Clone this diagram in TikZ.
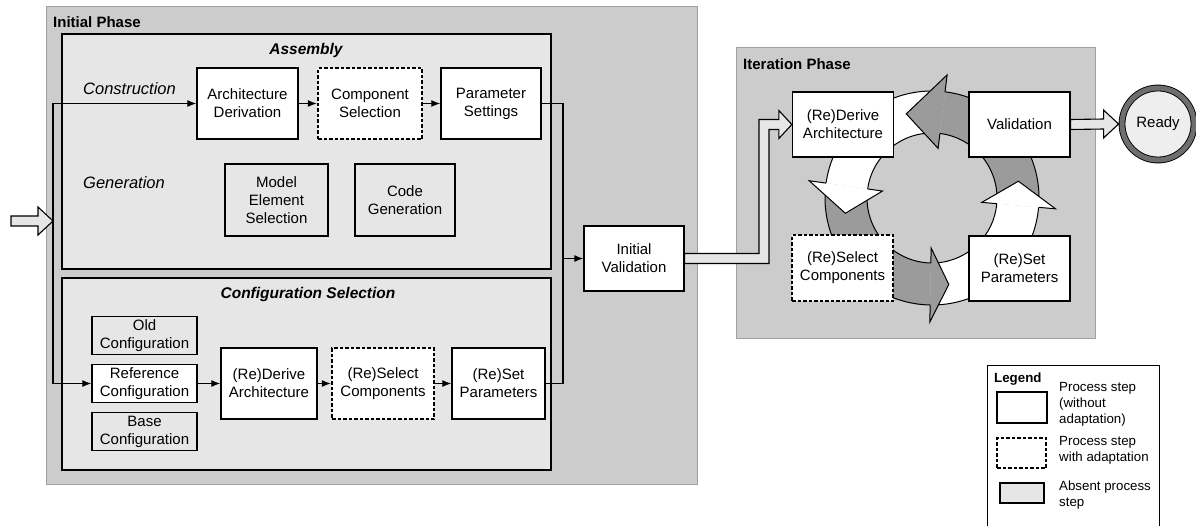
\documentclass[tikz,border=0pt]{standalone}
\usepackage{fontspec}
\setmainfont{Liberation Sans}
\usetikzlibrary{arrows.meta, calc, shapes.geometric}
\definecolor{phasegray}{RGB}{204,204,204}
\definecolor{phaseline}{RGB}{160,160,160}
\definecolor{areagray}{RGB}{230,230,230}
\definecolor{cyclegray}{RGB}{155,155,155}
\definecolor{readyring}{RGB}{110,110,110}
\definecolor{readyfill}{RGB}{238,238,238}
\newcommand{\stepfont}{\fontsize{15}{18}\selectfont}
\newcommand{\phasefont}{\fontsize{15}{18}\selectfont\bfseries}
\newcommand{\areafont}{\fontsize{15.5}{18}\selectfont\bfseries\itshape}
\newcommand{\rowfont}{\fontsize{16.5}{20}\selectfont\itshape}
\newcommand{\legfont}{\fontsize{13.3}{16}\selectfont}

\tikzset{
  stepbox/.style={draw, fill=white, line width=1.3pt, align=center, inner sep=1pt,
    font=\stepfont, minimum width=101pt, minimum height=71pt},
  adaptbox/.style={stepbox, line width=2.4pt, dash pattern=on 3.5pt off 2pt},
  absentbox/.style={stepbox, fill=areagray},
  cfgbox/.style={stepbox, minimum width=105pt, minimum height=38pt},
  phaselabel/.style={anchor=west, inner sep=0pt, font=\phasefont},
  arealabel/.style={inner sep=0pt, font=\areafont},
  rowlabel/.style={anchor=west, inner sep=0pt, font=\rowfont},
  legendtitle/.style={anchor=west, inner sep=0pt, font=\legfont\bfseries},
  legtext/.style={anchor=west, align=left, inner sep=0pt, font=\legfont},
  flow/.style={-{Latex[length=9pt,width=7pt]}, line width=1.1pt},
  fatarrow/.style={fill=areagray, draw=black, line width=1.1pt, line join=miter},
  ready/.style={circle, minimum size=72pt, inner sep=0pt, fill=readyfill, draw=black,
    line width=0.9pt, double=readyring, double distance=5pt, font=\stepfont}
}

% straight fat arrow between two points on one level
\newcommand{\fatlink}[2]{%
  \filldraw[fatarrow] ($(#1)+(0,-5)$) -- ($(#2)+(-15,-5)$) -- ($(#2)+(-15,-14)$) -- (#2)
    -- ($(#2)+(-15,14)$) -- ($(#2)+(-15,5)$) -- ($(#1)+(0,5)$) -- cycle;}
% ring segment of the iteration cycle: start, base, colour
\newcommand{\cyclebody}[3]{%
  \fill[#3] ($(ctr)+(#1:65pt)$) arc[start angle=#1, end angle=#2, radius=65pt]
    -- ($(ctr)+(#2:107pt)$) arc[start angle=#2, end angle=#1, radius=107pt] -- cycle;
  \draw[line width=1pt] ($(ctr)+(#1:65pt)$) arc[start angle=#1, end angle=#2, radius=65pt];
  \draw[line width=1pt] ($(ctr)+(#1:107pt)$) arc[start angle=#1, end angle=#2, radius=107pt];}
% head of a ring segment: base, tip, colour
\newcommand{\cyclehead}[3]{%
  \fill[#3] ($(ctr)+(#1:65pt)$) -- ($(ctr)+(#1:50pt)$) -- ($(ctr)+(#2:88pt)$)
    -- ($(ctr)+(#1:124pt)$) -- ($(ctr)+(#1:107pt)$) -- cycle;
  \draw[line width=1pt, line join=miter] ($(ctr)+(#1:65pt)$) -- ($(ctr)+(#1:50pt)$)
    -- ($(ctr)+(#2:88pt)$) -- ($(ctr)+(#1:124pt)$) -- ($(ctr)+(#1:107pt)$);}

\begin{document}
\begin{tikzpicture}[x=1pt, y=-1pt]
\useasboundingbox (0,0) rectangle (1196,525);

% phases and areas
\filldraw[fill=phasegray, draw=phaseline, line width=1pt] (46,6) rectangle (697,484);
\filldraw[fill=areagray, line width=1.3pt] (62,34) rectangle (551,269);
\filldraw[fill=areagray, line width=1.3pt] (62,278) rectangle (551,470);
\filldraw[fill=phasegray, draw=phaseline, line width=1pt] (736,47) rectangle (1095,338);
\node[phaselabel] (initlabel) at (53,22) {Initial Phase};
\node[phaselabel] (iterlabel) at (743,64) {Iteration Phase};
\node[arealabel] (asmlabel) at (306,50) {Assembly};
\node[arealabel] (cfglabel) at (308,294) {Configuration Selection};
\node[rowlabel] (conlabel) at (83,89) {Construction};
\node[rowlabel] (genlabel) at (83,183) {Generation};

% assembly
\node[stepbox] (archder) at (247.5,103.5) {Architecture\\Derivation};
\node[adaptbox, minimum width=104pt] (compsel) at (370,103.5) {Component\\Selection};
\node[stepbox, minimum width=100pt] (paramset) at (491,103.5) {Parameter\\Settings};
\node[absentbox, minimum width=103pt, minimum height=72pt] (modelsel) at (276.5,200) {Model\\Element\\Selection};
\node[absentbox, minimum width=100pt, minimum height=72pt] (codegen) at (405,200) {Code\\Generation};

% configuration selection
\node[cfgbox, fill=areagray] (oldcfg) at (144.5,335.5) {Old\\Configuration};
\node[cfgbox] (refcfg) at (144.5,383.5) {Reference\\Configuration};
\node[cfgbox, fill=areagray] (basecfg) at (144.5,431.5) {Base\\Configuration};
\node[stepbox, minimum width=96pt] (rederive) at (269,383.5) {(Re)Derive\\Architecture};
\node[adaptbox, minimum width=102pt] (reselect) at (383,383.5) {(Re)Select\\Components};
\node[stepbox, minimum width=93pt] (reset) at (498.5,383.5) {(Re)Set\\Parameters};
\node[stepbox, minimum width=100pt, minimum height=65pt] (initval) at (634,258.5) {Initial\\Validation};

% iteration cycle
\coordinate (ctr) at (932,198);
\cyclebody{87}{172}{white}
\cyclebody{176}{269}{cyclegray}
\cyclebody{273}{355}{white}
\cyclebody{-1}{83}{cyclegray}
\cyclehead{172}{190}{white}
\cyclehead{269}{281}{cyclegray}
\cyclehead{355}{371}{white}
\cyclehead{83}{107}{cyclegray}
\node[stepbox, minimum height=65pt] (itderive) at (843,124.5) {(Re)Derive\\Architecture};
\node[stepbox, minimum height=65pt] (itvalid) at (1019.5,124.5) {Validation};
\node[adaptbox, minimum height=66pt] (itselect) at (842.5,268) {(Re)Select\\Components};
\node[stepbox, minimum height=65pt] (itset) at (1019.5,268.5) {(Re)Set\\Parameters};
\node[ready] (ready) at (1158,124) {Ready};

% connectors
\coordinate (source) at (11,221);
\coordinate (inlet) at (53,221);
\coordinate (merge) at (563,258.5);
\coordinate (bend) at (764,0);
\coordinate (readyin) at ($(ready.west)+(-3,0)$);
\draw[flow] (inlet) |- (archder);
\draw[flow] (inlet) |- (refcfg);
\draw[flow] (archder) -- (compsel);
\draw[flow] (compsel) -- (paramset);
\draw[flow] (refcfg) -- (rederive);
\draw[flow] (rederive) -- (reselect);
\draw[flow] (reselect) -- (reset);
\draw[line width=1.1pt] (paramset) -| (merge);
\draw[line width=1.1pt] (reset) -| (merge);
\draw[flow] (merge) -- (initval);
\fatlink{source}{inlet}
\fatlink{itvalid.east}{readyin}
\filldraw[fatarrow] ($(initval.east)+(0,-5)$) -- ($(initval.east -| bend)+(-5,-5)$)
  -- ($(itderive.west -| bend)+(-5,-5)$) -- ($(itderive.west)+(-13,-5)$)
  -- ($(itderive.west)+(-13,-14)$) -- (itderive.west) -- ($(itderive.west)+(-13,14)$)
  -- ($(itderive.west)+(-13,5)$) -- ($(itderive.west -| bend)+(5,5)$)
  -- ($(initval.east -| bend)+(5,5)$) -- ($(initval.east)+(0,5)$) -- cycle;

% legend
\filldraw[fill=white, line width=1pt] (987,530) -- (987,365) -- (1159,365) -- (1159,530);
\node[legendtitle] (legtitle) at (994,379) {Legend};
\node[stepbox, minimum width=50pt, minimum height=31pt] (legstep) at (1022,407.5) {};
\node[adaptbox, minimum width=49pt, minimum height=30pt] (legadapt) at (1021.5,453) {};
\node[absentbox, minimum width=44pt, minimum height=20pt] (legabsent) at (1022,493) {};
\node[legtext] (legsteptext) at (1059,404) {Process step\\(without\\adaptation)};
\node[legtext] (legadapttext) at (1059,450.5) {Process step\\with adaptation};
\node[legtext] (legabsenttext) at (1059,495) {Absent process\\step};
\end{tikzpicture}
\end{document}
